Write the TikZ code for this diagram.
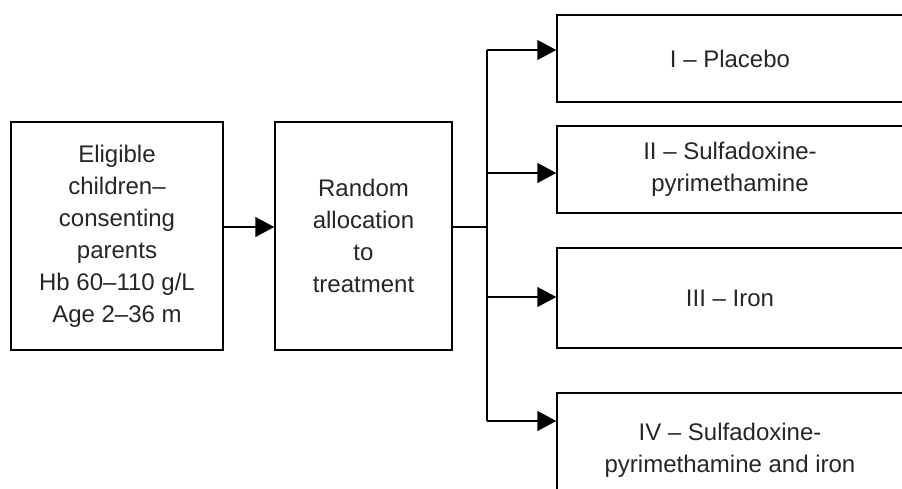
\documentclass[tikz,border=0pt]{standalone}
\usepackage{fontspec}
\setmainfont{Liberation Sans}
\usetikzlibrary{arrows.meta}
\begin{document}
\begin{tikzpicture}[x=1pt,y=1pt,
  box/.style={draw, line width=1.5pt, align=center, inner sep=0pt,
    font=\fontsize{24}{32}\selectfont, text=black!85},
  conn/.style={line width=1.5pt},
  arr/.style={conn, -{Triangle[length=19pt,width=20pt]}}]
\useasboundingbox (0,0) rectangle (902,488);
\node[box, minimum width=212pt, minimum height=228pt] (b1) at (117,252)
  {Eligible\\children--\\consenting\\parents\\Hb 60--110 g/L\\Age 2--36 m};
\node[box, minimum width=177pt, minimum height=228pt] (b2) at (363.5,252)
  {Random\\allocation\\to\\treatment};
\node[box, minimum width=346pt, minimum height=87pt] (r1) at (730,429.5)
  {I -- Placebo};
\node[box, minimum width=346pt, minimum height=87pt] (r2) at (730,318.5)
  {II -- Sulfadoxine-\\pyrimethamine};
\node[box, minimum width=346pt, minimum height=100pt] (r3) at (730,190)
  {III -- Iron};
\node[box, minimum width=346pt, minimum height=104pt, text height=60pt] (r4) at (730,43)
  {IV -- Sulfadoxine-\\pyrimethamine and iron};
\coordinate (spl) at (487,261);
\coordinate (t1) at (487,438);
\coordinate (t2) at (487,315);
\coordinate (t3) at (487,191);
\coordinate (t4) at (487,67);
\draw[arr] (b1.east |- spl) -- (b2.west |- spl);
\draw[conn] (b2.east |- spl) -- (spl);
\draw[conn] (t1) -- (t4);
\draw[arr] (t1) -- (t1 -| r1.west);
\draw[arr] (t2) -- (t2 -| r2.west);
\draw[arr] (t3) -- (t3 -| r3.west);
\draw[arr] (t4) -- (t4 -| r4.west);
\end{tikzpicture}
\end{document}
